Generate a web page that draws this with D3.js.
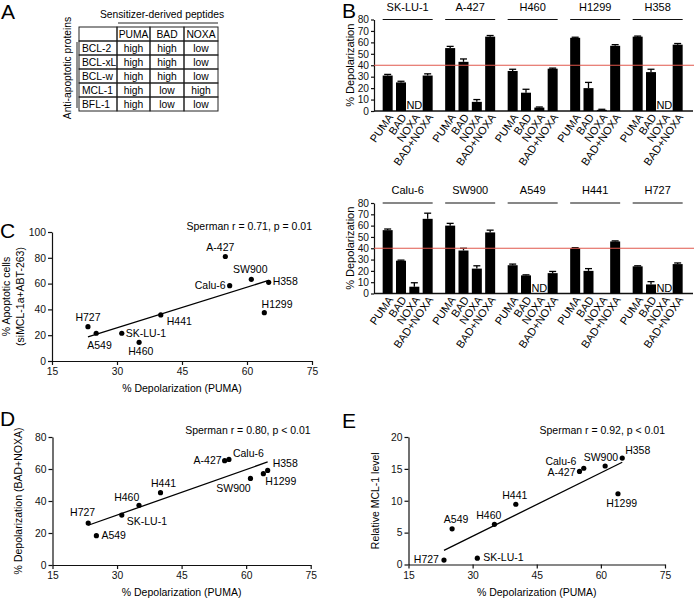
<!DOCTYPE html>
<html><head><meta charset="utf-8">
<script src="https://cdn.jsdelivr.net/npm/d3@7"></script>
<style>
html,body{margin:0;padding:0;background:#fff;}
svg{display:block;font-family:"Liberation Sans",Arial,Helvetica,sans-serif;}
</style></head><body>
<svg id="fig" width="694" height="601"></svg>
<script>
// ---------------- DATA ----------------
// Panel A
const proteins = ["BCL-2","BCL-xL","BCL-w","MCL-1","BFL-1"];
const sensitizers = ["PUMA","BAD","NOXA"];
const pumaBinding = ["high","high","high","high","high"];
const badBinding  = ["high","high","high","low","low"];
const noxaBinding = ["low","low","low","high","low"];

// Panel B
const cellLinesTop = ["SK-LU-1","A-427","H460","H1299","H358"];
const cellLinesBottom = ["Calu-6","SW900","A549","H441","H727"];
const peptides = ["PUMA","BAD","NOXA","BAD+NOXA"];
const barCells = ["SK-LU-1","A-427","H460","H1299","H358","Calu-6","SW900","A549","H441","H727"];
const pumaBar     = [31, 55, 35, 64, 65, 56, 60, 25, 40, 24];
const pumaErr     = [1, 1.5, 1.5, 0.5, 0.5, 1, 2, 1, 0.5, 0.5];
const badBar      = [25, 43, 16, 20, 34, 29, 38, 16, 20, 8];
const badErr      = [1, 2.5, 3, 5, 2.5, 0.5, 2, 0.5, 2, 2.5];
const noxaBar     = [null, 8, 3, 1, null, 6, 22, null, null, null];
const noxaErr     = [0, 2, 0.5, 0.5, 0, 3.5, 2.5, 0, 0, 0];
const noxaND      = [true, false, false, false, true, false, false, true, false, true];
const badNoxaBar  = [31, 65, 37, 57, 58, 66, 54, 18, 46, 26];
const badNoxaErr  = [1.5, 1, 0.5, 1, 1, 5, 2, 1.5, 0.5, 1];
const threshold = 40;
const barYTicks = [0,10,20,30,40,50,60,70,80];

// Panels C, D, E
const scatterCells  = ["SK-LU-1","A-427","H460","H1299","H358","Calu-6","SW900","A549","H441","H727"];
const pumaDepol     = [31.1, 55, 35.1, 64, 65, 56, 61, 25.2, 40.1, 23.3];
const apoptoticCells= [21.5, 81, 14.5, 37.5, 61, 58.4, 63.3, 21.5, 35.7, 26.6];
const badNoxaDepol  = [31.2, 65.2, 37.3, 57.1, 59.1, 66, 54.1, 18.3, 45.2, 26.2];
const mcl1Level     = [1.0, 14.6, 6.3, 11.1, 16.7, 15.1, 15.45, 5.6, 9.45, 0.7];
const xTicksPuma = [15,30,45,60,75];
const yTicksC = [0,20,40,60,80,100];
const yTicksD = [0,20,40,60,80];
const yTicksE = [0,5,10,15,20];
const statC = "Sperman r = 0.71, p = 0.01";
const statD = "Sperman r = 0.80, p < 0.01";
const statE = "Sperman r = 0.92, p < 0.01";

// label placement (styling): [anchor, dx, dy]
const labC = {"A-427":["middle",-5,-5.7],"SW900":["middle",-1,-6.3],"Calu-6":["end",-4,3.7],"H358":["start",4,3],
  "H1299":["middle",12.7,-5],"H441":["start",6,9.7],"H727":["middle",0,-5.7],"A549":["middle",3.3,15.4],
  "SK-LU-1":["start",4,3.7],"H460":["middle",1.7,13]};
const labD = {"H727":["middle",-5.6,-7],"A549":["start",5,3.7],"SK-LU-1":["start",5,10],"H460":["middle",-12.3,-4.7],
  "H441":["middle",3,-5.3],"A-427":["end",-3,3.7],"Calu-6":["start",4,-2],"SW900":["middle",-17,13.3],
  "H1299":["start",2,11.7],"H358":["start",5,-3]};
const labE = {"H727":["end",-5,3],"SK-LU-1":["start",6,3],"A549":["middle",4,-5.6],"H460":["middle",-5.6,-5.6],
  "H441":["middle",-1,-5],"A-427":["end",-4,5],"Calu-6":["end",-7.4,-3.7],"SW900":["middle",-4.3,-5.3],
  "H358":["middle",15.5,-4],"H1299":["middle",3.7,13.7]};

// ---------------- DRAW ----------------
const svg = d3.select("#fig");
const FONT = 11;

function panelLetter(t, x, y){
  svg.append("text").attr("x",x).attr("y",y).attr("font-size",21).text(t);
}
panelLetter("A",1,19); panelLetter("B",342,18); panelLetter("C",0,238); panelLetter("D",0,426); panelLetter("E",342,428);

// ---- Panel A table ----
(function(){
  const colX = d3.scaleOrdinal().domain(["name",...sensitizers]).range([79,117,150,184]);
  const colW = {"name":38,"PUMA":33,"BAD":34,"NOXA":34};
  const rowY = d3.scaleBand().domain(["hdr",...proteins]).range([27,111]);
  const g = svg.append("g").attr("font-size",10.3);
  const rows = ["hdr",...proteins];
  const vals = {PUMA:pumaBinding, BAD:badBinding, NOXA:noxaBinding};
  rows.forEach((r,ri)=>{
    ["name",...sensitizers].forEach(c=>{
      g.append("rect").attr("x",colX(c)).attr("y",rowY(r)).attr("width",colW[c]).attr("height",rowY.bandwidth())
        .attr("fill","none").attr("stroke","#222").attr("stroke-width",1);
      let txt = "";
      if (r==="hdr") txt = c==="name" ? "" : c;
      else txt = c==="name" ? r : vals[c][ri-1];
      if (c==="name") g.append("text").attr("x",colX(c)+3).attr("y",rowY(r)+rowY.bandwidth()/2).attr("dy","0.36em").text(txt);
      else g.append("text").attr("x",colX(c)+colW[c]/2).attr("y",rowY(r)+rowY.bandwidth()/2).attr("dy","0.36em").attr("text-anchor","middle").text(txt);
    });
  });
  g.append("text").attr("x",162).attr("y",17.5).attr("text-anchor","middle").text("Sensitizer-derived peptides");
  g.append("line").attr("x1",118).attr("x2",218).attr("y1",23).attr("y2",23).attr("stroke","#222");
  g.append("text").attr("transform","translate(70.5,68) rotate(-90)").attr("text-anchor","middle").text("Anti-apoptotic proteins");
  g.append("line").attr("x1",77).attr("x2",77).attr("y1",42).attr("y2",108).attr("stroke","#222");
})();

// ---- Panel B ----
const barValues = {"PUMA":pumaBar,"BAD":badBar,"NOXA":noxaBar,"BAD+NOXA":badNoxaBar};
const barErrors = {"PUMA":pumaErr,"BAD":badErr,"NOXA":noxaErr,"BAD+NOXA":badNoxaErr};

function barPanel(cells, yTopPx, yBotPx){
  const g = svg.append("g");
  const y = d3.scaleLinear().domain([0,80]).range([yBotPx,yTopPx]);
  const gx = d3.scaleBand().domain(cells).range([381,693.5]);
  const bx = d3.scaleBand().domain(peptides).range([0,gx.bandwidth()*0.8533]).paddingInner(0.25).paddingOuter(0.125);
  const axisX0 = 374, axisX1 = 693;
  // y axis
  g.append("g").attr("transform",`translate(${axisX0},0)`)
    .call(d3.axisLeft(y).tickValues(barYTicks).tickSize(3).tickPadding(2).tickSizeOuter(0))
    .call(a=>{a.selectAll("text").attr("font-size",10.2).attr("font-family",null).attr("fill","#111");
              a.selectAll("line,path").attr("stroke","#111").attr("stroke-width",1.2);});
  // x baseline
  g.append("line").attr("x1",axisX0).attr("x2",axisX1).attr("y1",y(0)).attr("y2",y(0)).attr("stroke","#111").attr("stroke-width",1.3);
  // bars
  cells.forEach(c=>{
    const i = barCells.indexOf(c);
    peptides.forEach(p=>{
      const v = barValues[p][i];
      const cx = gx(c)+bx(p)+bx.bandwidth()/2;
      if (v!==null){
        g.append("rect").attr("x",gx(c)+bx(p)).attr("y",y(v)).attr("width",bx.bandwidth()).attr("height",y(0)-y(v)).attr("fill","#000");
        const e = barErrors[p][i];
        g.append("line").attr("x1",cx).attr("x2",cx).attr("y1",y(v)).attr("y2",y(v+e)).attr("stroke","#000").attr("stroke-width",1.3);
        g.append("line").attr("x1",cx-3.5).attr("x2",cx+3.5).attr("y1",y(v+e)).attr("y2",y(v+e)).attr("stroke","#000").attr("stroke-width",1.3);
      } else if (p==="NOXA" && noxaND[i]) {
        g.append("text").attr("x",cx).attr("y",y(0)-2).attr("text-anchor","middle").attr("font-size",FONT).text("ND");
      }
      g.append("text").attr("transform",`translate(${cx+3},${y(0)+4}) rotate(-55)`).attr("text-anchor","end")
        .attr("dy","0.35em").attr("font-size",FONT).text(p);
    });
    const x1 = gx(c)+bx("PUMA"), x2 = gx(c)+bx("BAD+NOXA")+bx.bandwidth();
    g.append("line").attr("x1",x1).attr("x2",x2).attr("y1",y(80)).attr("y2",y(80)).attr("stroke","#111").attr("stroke-width",1.2);
    g.append("text").attr("x",(x1+x2)/2).attr("y",y(80)-9).attr("text-anchor","middle").attr("font-size",FONT).text(c);
  });
  // threshold
  g.append("line").attr("x1",axisX0).attr("x2",694).attr("y1",y(threshold)).attr("y2",y(threshold)).attr("stroke","#e0574d").attr("stroke-width",1.2);
  g.append("text").attr("transform",`translate(354,${(yTopPx+yBotPx)/2}) rotate(-90)`).attr("text-anchor","middle").attr("font-size",FONT).text("% Depolarization");
}
barPanel(cellLinesTop, 19.5, 111);
barPanel(cellLinesBottom, 203, 293.5);

// ---- Scatter panels ----
function scatter(opts){
  const {xr, yr, yDomain, yTicks, yVals, labels, stat, yTitle} = opts;
  const g = svg.append("g").attr("font-size",10.5);
  const x = d3.scaleLinear().domain([15,75]).range(xr);
  const y = d3.scaleLinear().domain(yDomain).range(yr);
  g.append("g").attr("transform",`translate(0,${y(yDomain[0])})`)
    .call(d3.axisBottom(x).tickValues(xTicksPuma).tickSize(4).tickPadding(3).tickSizeOuter(0))
    .call(a=>{a.selectAll("text").attr("font-size",10.3).attr("font-family",null).attr("fill","#111");
              a.selectAll("line,path").attr("stroke","#111").attr("stroke-width",1.2);});
  g.append("g").attr("transform",`translate(${x(15)},0)`)
    .call(d3.axisLeft(y).tickValues(yTicks).tickSize(4).tickPadding(2).tickSizeOuter(0))
    .call(a=>{a.selectAll("text").attr("font-size",10.3).attr("font-family",null).attr("fill","#111");
              a.selectAll("line,path").attr("stroke","#111").attr("stroke-width",1.2);});
  // regression
  const mx = d3.mean(pumaDepol), my = d3.mean(yVals);
  let sxy=0, sxx=0;
  pumaDepol.forEach((xv,i)=>{ sxy += (xv-mx)*(yVals[i]-my); sxx += (xv-mx)*(xv-mx); });
  const slope = sxy/sxx, icpt = my - slope*mx;
  const [xmin,xmax] = d3.extent(pumaDepol);
  g.append("line").attr("x1",x(xmin)).attr("x2",x(xmax)).attr("y1",y(icpt+slope*xmin)).attr("y2",y(icpt+slope*xmax))
    .attr("stroke","#000").attr("stroke-width",1.3);
  scatterCells.forEach((c,i)=>{
    const px = x(pumaDepol[i]), py = y(yVals[i]);
    g.append("circle").attr("cx",px).attr("cy",py).attr("r",2.6).attr("fill","#000");
    const [an,dx,dy] = labels[c];
    g.append("text").attr("x",px+dx).attr("y",py+dy).attr("text-anchor",an).text(c);
  });
  g.append("text").attr("x",xr[1]).attr("y",stat.y).attr("text-anchor","end").text(stat.t);
  g.append("text").attr("x",(xr[0]+xr[1])/2).attr("y",yr[0]+31).attr("text-anchor","middle").text("% Depolarization (PUMA)");
  yTitle(g, (yr[0]+yr[1])/2);
}

scatter({xr:[52,312], yr:[361,232], yDomain:[0,100], yTicks:yTicksC, yVals:apoptoticCells, labels:labC,
  stat:{t:statC,y:229.5},
  yTitle:(g,cy)=>{
    g.append("text").attr("transform",`translate(10,${cy}) rotate(-90)`).attr("text-anchor","middle").text("% Apoptotic cells");
    g.append("text").attr("transform",`translate(24,${cy}) rotate(-90)`).attr("text-anchor","middle").text("(siMCL-1a+ABT-263)");
  }});
scatter({xr:[52.5,310.7], yr:[565,437], yDomain:[0,80], yTicks:yTicksD, yVals:badNoxaDepol, labels:labD,
  stat:{t:statD,y:433.5},
  yTitle:(g,cy)=>{
    g.append("text").attr("transform",`translate(22,${cy}) rotate(-90)`).attr("text-anchor","middle").text("% Depolarization  (BAD+NOXA)");
  }});
scatter({xr:[408.5,665], yr:[564.5,437], yDomain:[0,20], yTicks:yTicksE, yVals:mcl1Level, labels:labE,
  stat:{t:statE,y:433.5},
  yTitle:(g,cy)=>{
    g.append("text").attr("transform",`translate(379,${cy}) rotate(-90)`).attr("text-anchor","middle").text("Relative MCL-1 level");
  }});
</script>
</body></html>
